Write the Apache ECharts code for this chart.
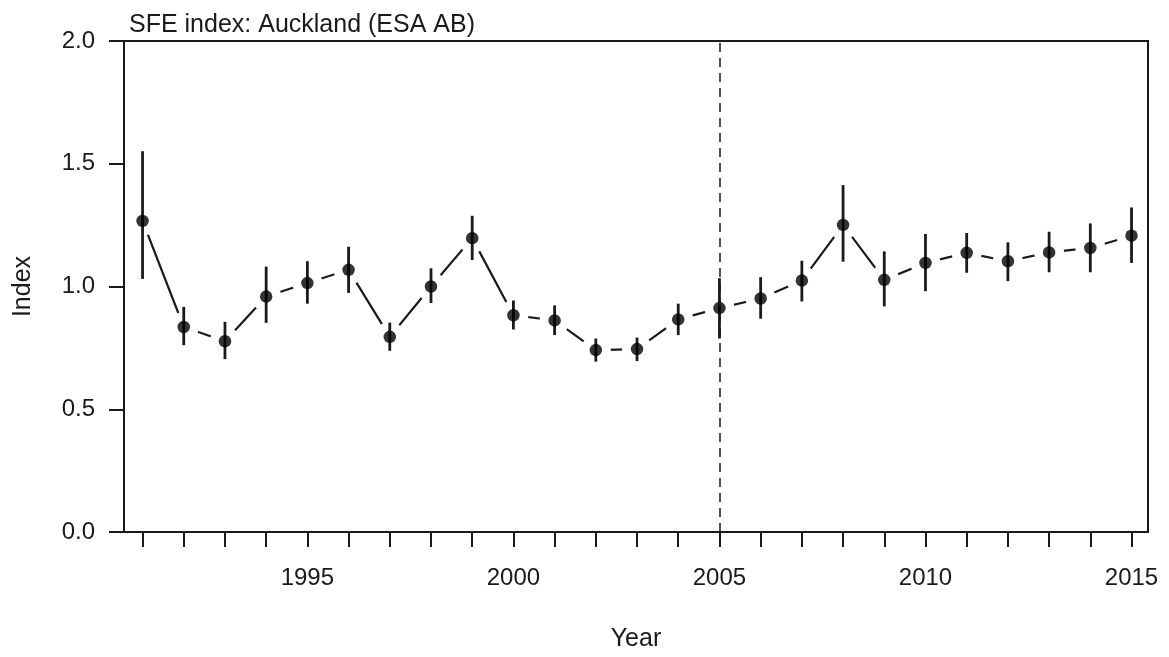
<!DOCTYPE html>
<html>
<head>
<meta charset="utf-8">
<script src="https://cdn.jsdelivr.net/npm/echarts@6/dist/echarts.min.js"></script>
<style>
html,body{margin:0;padding:0;background:#fff;}
#chart{width:1169px;height:657px;}
</style>
</head>
<body>
<div id="chart"></div>
<script>
const titleText = 'SFE index: Auckland (ESA AB)';
const years = [1991,1992,1993,1994,1995,1996,1997,1998,1999,2000,2001,2002,2003,2004,2005,2006,2007,2008,2009,2010,2011,2012,2013,2014,2015];
const indexValues = [1.267,0.835,0.777,0.959,1.014,1.068,0.795,1.000,1.197,0.883,0.862,0.741,0.745,0.866,0.912,0.951,1.024,1.251,1.027,1.096,1.137,1.103,1.139,1.157,1.207];
const lowerValues = [1.031,0.761,0.704,0.852,0.930,0.974,0.738,0.933,1.108,0.825,0.802,0.694,0.696,0.802,0.788,0.869,0.939,1.101,0.919,0.981,1.056,1.022,1.058,1.058,1.096];
const upperValues = [1.551,0.917,0.856,1.081,1.103,1.162,0.853,1.074,1.288,0.943,0.923,0.788,0.792,0.930,1.034,1.038,1.105,1.413,1.143,1.214,1.218,1.180,1.223,1.257,1.322];
const xLabelYears = [1995,2000,2005,2010,2015];
const yTicks = [0,0.5,1,1.5,2];
const splitYear = 2005;

const pts = years.map((y,i)=>[y, indexValues[i]]);
const bars = years.map((y,i)=>[y, lowerValues[i], upperValues[i]]);

const font = 'Liberation Sans, Arial, sans-serif';
const ink = '#1a1a1a';

const chart = echarts.init(document.getElementById('chart'), null, {renderer:'canvas'});
chart.setOption({
  animation:false,
  backgroundColor:'#fff',
  title:{
    text:titleText, left:124, top:8,
    textStyle:{fontFamily:font, fontSize:25, fontWeight:'normal', color:ink}
  },
  grid:{left:124, right:21, top:41, bottom:122, show:true, borderColor:ink, borderWidth:2, backgroundColor:'transparent'},
  xAxis:{
    type:'value', min:1990.55, max:2015.4,
    name:'Year', nameLocation:'middle', nameGap:95,
    nameTextStyle:{fontFamily:font, fontSize:25, color:ink},
    axisLine:{show:false},
    axisTick:{show:true, inside:false, length:15, lineStyle:{color:ink, width:2}, customValues:years},
    axisLabel:{show:true, margin:34, fontFamily:font, fontSize:24, color:ink, customValues:xLabelYears, formatter:v=>String(v)},
    splitLine:{show:false}
  },
  yAxis:{
    type:'value', min:0, max:2, interval:0.5,
    name:'Index', nameLocation:'middle', nameGap:88, nameRotate:90,
    nameTextStyle:{fontFamily:font, fontSize:25, color:ink},
    axisLine:{show:false},
    axisTick:{show:true, inside:false, length:15, lineStyle:{color:ink, width:2}, customValues:yTicks},
    axisLabel:{show:true, margin:29, fontFamily:font, fontSize:24, color:ink, customValues:yTicks, formatter:v=>v.toFixed(1)},
    splitLine:{show:false}
  },
  series:[
    {
      type:'line', data:pts, z:2,
      symbol:'circle', symbolSize:30, showSymbol:true, showAllSymbol:true,
      itemStyle:{color:'#fff', borderWidth:0},
      lineStyle:{color:ink, width:2.2},
      emphasis:{disabled:true},
      silent:true
    },
    {
      type:'custom', data:bars, z:3, silent:true,
      renderItem:function(params, api){
        const x = api.value(0);
        const p1 = api.coord([x, api.value(1)]);
        const p2 = api.coord([x, api.value(2)]);
        return {type:'line', shape:{x1:p1[0], y1:p1[1], x2:p2[0], y2:p2[1]}, style:{stroke:ink, lineWidth:2.8}};
      },
      markLine:{
        silent:true, symbol:['none','none'], label:{show:false},
        lineStyle:{color:ink, width:1.5, type:[9,6]},
        data:[{xAxis:splitYear}]
      }
    },
    {
      type:'scatter', data:pts, z:4, symbol:'circle', symbolSize:12.5,
      itemStyle:{color:'#000'}, silent:true
    }
  ]
});
</script>
</body>
</html>
